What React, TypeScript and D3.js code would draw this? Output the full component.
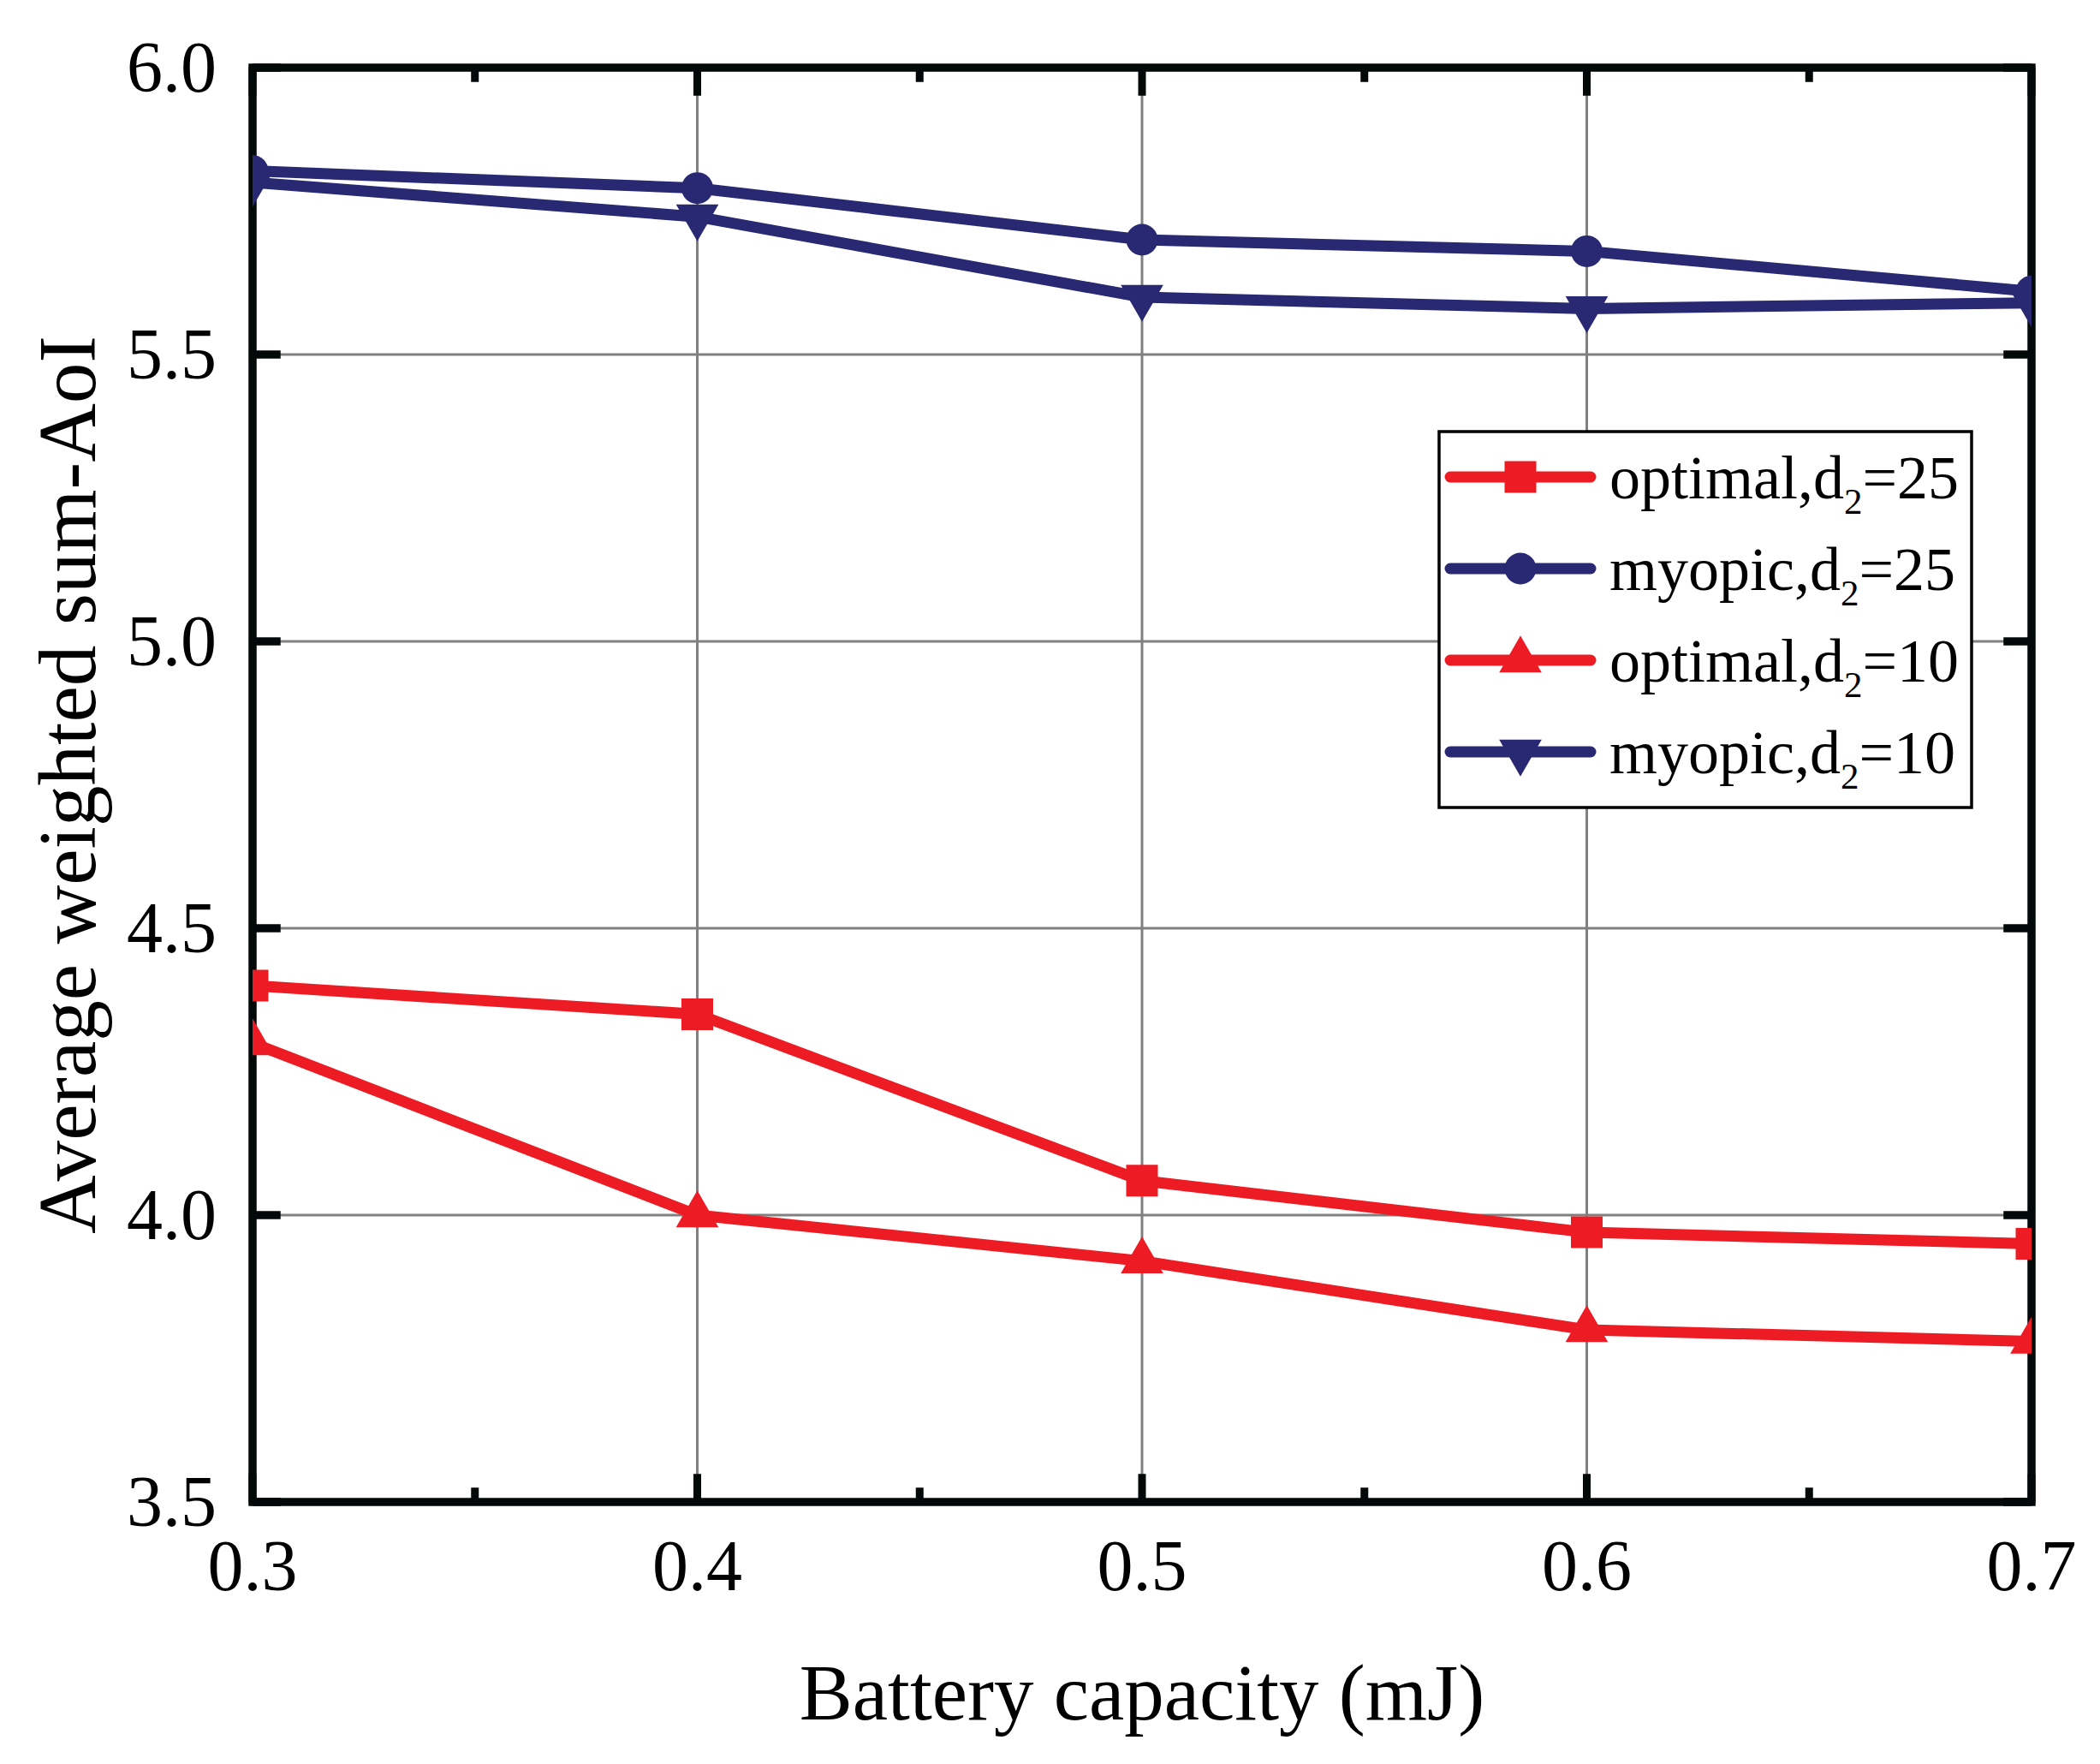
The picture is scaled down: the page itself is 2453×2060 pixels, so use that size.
import React from "react";
import * as d3 from "d3";

// Battery capacity (mJ)
const capacities = [0.3, 0.4, 0.5, 0.6, 0.7];
// Average weighted sum-AoI per series
const optimal25 = [4.4, 4.35, 4.06, 3.97, 3.95];
const myopic25 = [5.82, 5.79, 5.7, 5.68, 5.61];
const optimal10 = [4.3, 4.0, 3.92, 3.8, 3.78];
const myopic10 = [5.8, 5.74, 5.6, 5.58, 5.59];

const xTicks = [0.3, 0.4, 0.5, 0.6, 0.7];
const xMinorTicks = [0.35, 0.45, 0.55, 0.65];
const yTicks = [3.5, 4.0, 4.5, 5.0, 5.5, 6.0];

const RED = "#ED1C24";
const NAVY = "#292872";
const FONT = "'Liberation Serif', 'Times New Roman', serif";

type SymbolKind = "square" | "circle" | "triangle" | "triangleDown";

const series: { name: string; sub: string; rest: string; values: number[]; color: string; symbol: SymbolKind }[] = [
  { name: "optimal,d", sub: "2", rest: "=25", values: optimal25, color: RED, symbol: "square" },
  { name: "myopic,d", sub: "2", rest: "=25", values: myopic25, color: NAVY, symbol: "circle" },
  { name: "optimal,d", sub: "2", rest: "=10", values: optimal10, color: RED, symbol: "triangle" },
  { name: "myopic,d", sub: "2", rest: "=10", values: myopic10, color: NAVY, symbol: "triangleDown" },
];

const W = 2453;
const H = 2060;
const margin = { left: 295, top: 79, right: W - 2373, bottom: H - 1754 };

const symbolPath = (kind: SymbolKind) => {
  if (kind === "square") return d3.symbol(d3.symbolSquare, 1369)()!;
  if (kind === "circle") return d3.symbol(d3.symbolCircle, 1075)()!;
  return d3.symbol(d3.symbolTriangle, 1067)()!;
};

const App: React.FC = () => {
  const x0 = margin.left;
  const x1 = W - margin.right;
  const y0 = margin.top;
  const y1 = H - margin.bottom;

  const xScale = d3.scaleLinear().domain([0.3, 0.7]).range([x0, x1]);
  const yScale = d3.scaleLinear().domain([3.5, 6.0]).range([y1, y0]);

  const line = d3
    .line<number>()
    .x((_, i) => xScale(capacities[i]))
    .y((d) => yScale(d));

  const fmt = d3.format(".1f");
  const spineW = 9.5;
  const majorLen = 28 + spineW / 2;
  const minorLen = 12 + spineW / 2;

  // legend layout
  const lg = { x: 1681, y: 504, w: 622, h: 439 };
  const rowY = [557, 664, 771, 878];

  return (
    <div style={{ position: "absolute", left: 0, top: 0 }}>
      <svg width={W} height={H} style={{ display: "block", background: "#fff" }}>
        <defs>
          <clipPath id="plotClip">
            <rect x={x0} y={y0} width={x1 - x0} height={y1 - y0} />
          </clipPath>
        </defs>
        <rect width={W} height={H} fill="#fff" />

        {/* grid */}
        <g stroke="#808080" strokeWidth={3}>
          {xTicks.slice(1, -1).map((t) => (
            <line key={`gx${t}`} x1={xScale(t)} x2={xScale(t)} y1={y0} y2={y1} />
          ))}
          {yTicks.slice(1, -1).map((t) => (
            <line key={`gy${t}`} x1={x0} x2={x1} y1={yScale(t)} y2={yScale(t)} />
          ))}
        </g>

        {/* frame and ticks */}
        <g stroke="#030808">
          <rect x={x0} y={y0} width={x1 - x0} height={y1 - y0} fill="none" strokeWidth={spineW} />
          {xTicks.map((t) => (
            <g key={`tx${t}`} strokeWidth={9}>
              <line x1={xScale(t)} x2={xScale(t)} y1={y1} y2={y1 - majorLen} />
              <line x1={xScale(t)} x2={xScale(t)} y1={y0} y2={y0 + majorLen} />
            </g>
          ))}
          {xMinorTicks.map((t) => (
            <g key={`tm${t}`} strokeWidth={9}>
              <line x1={xScale(t)} x2={xScale(t)} y1={y1} y2={y1 - minorLen} />
              <line x1={xScale(t)} x2={xScale(t)} y1={y0} y2={y0 + minorLen} />
            </g>
          ))}
          {yTicks.map((t) => (
            <g key={`ty${t}`} strokeWidth={9.5}>
              <line x1={x0} x2={x0 + majorLen} y1={yScale(t)} y2={yScale(t)} />
              <line x1={x1} x2={x1 - majorLen} y1={yScale(t)} y2={yScale(t)} />
            </g>
          ))}
        </g>

        {/* data */}
        <g clipPath="url(#plotClip)">
          {series.map((s, si) => (
            <g key={`s${si}`}>
              <path d={line(s.values) || ""} fill="none" stroke={s.color} strokeWidth={13} strokeLinejoin="miter" />
              {s.values.map((v, i) => (
                <path
                  key={i}
                  d={symbolPath(s.symbol)}
                  fill={s.color}
                  transform={`translate(${xScale(capacities[i])},${yScale(v)})${s.symbol === "triangleDown" ? " rotate(180)" : ""}`}
                />
              ))}
            </g>
          ))}
        </g>

        {/* tick labels */}
        <g fontFamily={FONT} fontSize={84} fill="#000">
          {xTicks.map((t) => (
            <text key={`lx${t}`} x={xScale(t)} y={y1 + 103} textAnchor="middle">
              {fmt(t)}
            </text>
          ))}
          {yTicks.map((t) => (
            <text key={`ly${t}`} x={x0 - 42} y={yScale(t) + 28} textAnchor="end">
              {fmt(t)}
            </text>
          ))}
        </g>

        {/* axis titles */}
        <text x={(x0 + x1) / 2} y={2008} textAnchor="middle" fontFamily={FONT} fontSize={93} fill="#000">
          Battery capacity (mJ)
        </text>
        <text
          transform={`translate(111,${(y0 + y1) / 2}) rotate(-90)`}
          textAnchor="middle"
          fontFamily={FONT}
          fontSize={95}
          fill="#000"
          textLength={1049}
          lengthAdjust="spacingAndGlyphs"
        >
          Average weighted sum-AoI
        </text>

        {/* legend */}
        <g>
          <rect x={lg.x} y={lg.y} width={lg.w} height={lg.h} fill="#fff" stroke="#000" strokeWidth={3.5} />
          {series.map((s, i) => (
            <g key={`lg${i}`}>
              <line x1={1694} x2={1858} y1={rowY[i]} y2={rowY[i]} stroke={s.color} strokeWidth={13} strokeLinecap="round" />
              <path
                d={symbolPath(s.symbol)}
                fill={s.color}
                transform={`translate(1776,${rowY[i]})${s.symbol === "triangleDown" ? " rotate(180)" : ""}`}
              />
              <text x={1880} y={rowY[i] + 25} fontFamily={FONT} fontSize={72} fill="#000">
                {s.name}
                <tspan fontSize={43} dy={18}>
                  {s.sub}
                </tspan>
                <tspan dy={-18}>{s.rest}</tspan>
              </text>
            </g>
          ))}
        </g>
      </svg>
    </div>
  );
};

export default App;
